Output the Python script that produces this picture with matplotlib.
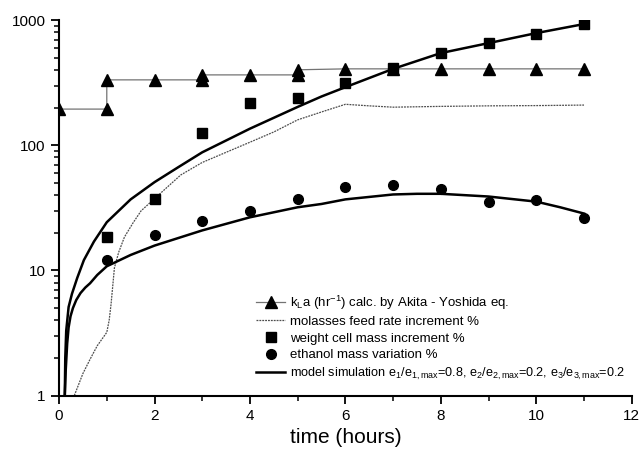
import numpy as np
import matplotlib
matplotlib.use("Agg")
import matplotlib.pyplot as plt
from matplotlib.ticker import FixedLocator, LogLocator, NullFormatter, FixedFormatter

plt.rcParams['font.family'] = ['Liberation Sans', 'DejaVu Sans']
plt.rcParams['mathtext.fontset'] = 'custom'
plt.rcParams['mathtext.rm'] = 'Liberation Sans'
plt.rcParams['mathtext.it'] = 'Liberation Sans'

# kLa calc. by Akita - Yoshida (hr^-1), joined in plotting order
kla_t = [0, 1, 1, 2, 3, 3, 4, 5, 5, 6, 7, 8, 9, 10, 11]
kla_v = [195, 195, 334, 334, 334, 366, 366, 366, 402, 409, 409, 409, 409, 409, 409]

# molasses feed rate increment %
mol_t = [0.32, 0.5, 0.65, 0.8, 1.0, 1.05, 1.09, 1.16, 1.25, 1.37, 1.55, 1.72, 2.0,
         2.55, 3.0, 3.5, 4.0, 4.5, 5.0, 5.5, 6.0, 6.5, 7.0, 8.0, 9.0, 10.0, 11.0]
mol_v = [1.0, 1.5, 1.95, 2.5, 3.2, 4.0, 5.4, 10.5, 14, 18.5, 24, 30, 37.5,
         58, 73, 88, 106, 128, 160, 185, 213, 207, 202, 205, 207, 208, 210]

# weight cell mass increment %
cell_t = [1, 2, 3, 4, 5, 6, 7, 8, 9, 10, 11]
cell_v = [18.5, 37.3, 126, 219, 240, 316, 415, 552, 657, 780, 933]

# ethanol mass variation %
eth_t = [1, 2, 3, 4, 5, 6, 7, 8, 9, 10, 11]
eth_v = [12.1, 19.2, 25, 30, 37.3, 46.3, 48.3, 44.6, 35.1, 36.6, 26.4]

# model simulation, cell mass
sim1_t = [0.12, 0.13, 0.15, 0.2, 0.27, 0.38, 0.52, 0.73, 1.0, 1.5, 2.0, 2.5, 3.0,
          4.0, 5.0, 5.5, 6.0, 7.0, 8.0, 9.0, 10.0, 11.0]
sim1_v = [1.0, 2.0, 3.3, 5.1, 6.5, 8.7, 12.1, 17, 24.3, 37, 50.8, 67, 88,
          136, 203, 246, 292, 409, 547, 657, 790, 933]

# model simulation, ethanol
sim2_t = [0.12, 0.14, 0.17, 0.2, 0.24, 0.29, 0.36, 0.45, 0.55, 0.65, 0.8, 1.0,
          1.5, 2.0, 3.0, 4.0, 5.0, 5.5, 6.0, 7.0, 7.5, 8.0, 9.0, 10.0, 10.5, 11.0]
sim2_v = [1.0, 1.6, 2.6, 3.5, 4.3, 5.0, 5.8, 6.6, 7.3, 7.9, 9.2, 10.8,
          13.3, 15.8, 20.9, 26.6, 32, 34, 37, 40.5, 41, 41, 39, 35.5, 32, 28.5]

fig = plt.figure(figsize=(6.42, 4.51), dpi=100)
ax = fig.add_axes([0.092, 0.123, 0.892, 0.832])

ax.plot(kla_t, kla_v, '-', color='0.45', lw=0.9, marker='^', ms=8,
        mfc='black', mec='black',
        label=r'k$_\mathregular{L}$a (hr$^\mathregular{-1}$) calc. by Akita - Yoshida eq.')
ax.plot(mol_t, mol_v, color='0.3', lw=0.9, ls=(0, (1.5, 0.8)),
        label='molasses feed rate increment %')
ax.plot(cell_t, cell_v, 's', color='black', ms=6.5, label='weight cell mass increment %')
ax.plot(eth_t, eth_v, 'o', color='black', ms=7, label='ethanol mass variation %')
ax.plot(sim1_t, sim1_v, '-', color='black', lw=1.8,
        label=r'model simulation e$_\mathregular{1}$/e$_\mathregular{1,max}$=0.8, '
              r'e$_\mathregular{2}$/e$_\mathregular{2,max}$=0.2, '
              r'e$_\mathregular{3}$/e$_\mathregular{3,max}$=0.2')
ax.plot(sim2_t, sim2_v, '-', color='black', lw=1.8)

ax.set_yscale('log')
ax.set_xlim(0, 12)
ax.set_ylim(1, 1000)

ax.xaxis.set_major_locator(FixedLocator([0, 2, 4, 6, 8, 10, 12]))
ax.xaxis.set_minor_locator(FixedLocator([1, 3, 5, 7, 9, 11]))
ax.yaxis.set_major_locator(FixedLocator([1, 10, 100, 1000]))
ax.yaxis.set_major_formatter(FixedFormatter(['1', '10', '100', '1000']))
ax.yaxis.set_minor_locator(LogLocator(base=10, subs=np.arange(2, 10)))
ax.yaxis.set_minor_formatter(NullFormatter())

for s in ['top', 'right']:
    ax.spines[s].set_visible(False)
for s in ['left', 'bottom']:
    ax.spines[s].set_linewidth(1.5)

ax.tick_params(which='major', direction='out', length=6, width=1.3, labelsize=11)
ax.tick_params(which='minor', direction='out', length=3.5, width=1.1)

ax.set_xlabel('time (hours)', fontsize=15, labelpad=4)

leg = ax.legend(loc='upper left', bbox_to_anchor=(0.328, 0.297), frameon=False,
                fontsize=9.5, handlelength=2.2, handletextpad=0.4, labelspacing=0.33,
                borderpad=0.2)
leg.get_texts()[4].set_fontsize(9.1)

fig.savefig('out.png', dpi=100)
